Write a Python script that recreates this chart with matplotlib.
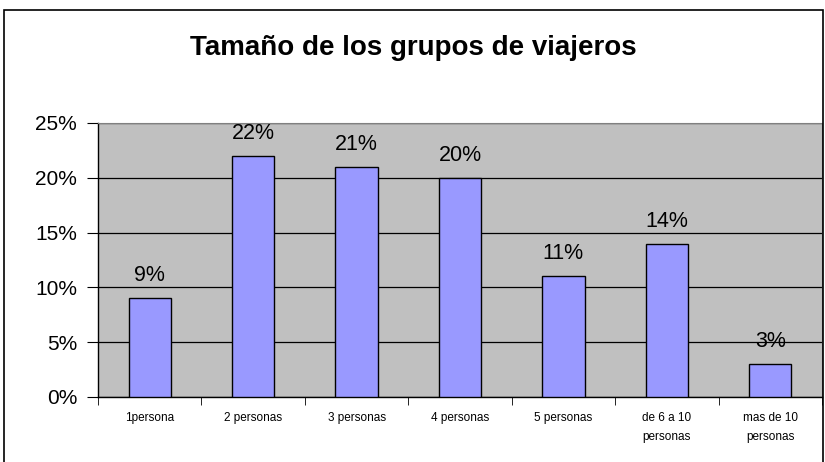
import matplotlib.pyplot as plt
from matplotlib.patches import Rectangle
from matplotlib.ticker import FixedLocator, NullFormatter

plt.rcParams['font.family'] = ['Liberation Sans', 'DejaVu Sans']

categories = ["1persona", "2 personas", "3 personas", "4 personas",
              "5 personas", "de 6 a 10\npersonas", "mas de 10\npersonas"]
values = [9, 22, 21, 20, 11, 14, 3]
yticks = [0, 5, 10, 15, 20, 25]

fig = plt.figure(figsize=(8.25, 4.62), dpi=100)
ax = fig.add_axes([98 / 825, 1 - 397 / 462, 724 / 825, 274 / 462])

x = list(range(len(categories)))
ax.set_facecolor("#C0C0C0")
ax.bar(x, values, width=0.41, color="#9999FF", edgecolor="black", linewidth=1, zorder=3)
for xi, v in zip(x, values):
    ax.text(xi, v + 1.1, f"{v}%", ha="center", va="bottom", fontsize=15.5, zorder=4)

ax.set_xlim(-0.5, len(categories) - 0.5)
ax.set_ylim(0, 25)
ax.set_yticks(yticks)
ax.set_yticklabels([f"{t}%" for t in yticks], fontsize=15)
ax.yaxis.grid(True, color="black", linewidth=0.9, zorder=1)

# category labels between boundary ticks
ax.set_xticks(x)
ax.set_xticklabels(categories, fontsize=8.5, linespacing=1.7)
ax.tick_params(axis="x", length=0, pad=11)
ax.xaxis.set_minor_locator(FixedLocator([i - 0.5 for i in range(len(categories) + 1)]))
ax.xaxis.set_minor_formatter(NullFormatter())
ax.tick_params(axis="x", which="minor", length=6, direction="out")
ax.tick_params(axis="y", length=8, direction="out", pad=7)

for s in ["top", "right"]:
    ax.spines[s].set_color("#808080")
    ax.spines[s].set_linewidth(0.8)
ax.spines["left"].set_linewidth(1)
ax.spines["bottom"].set_linewidth(1)

fig.text(413 / 825, 1 - 48 / 462, "Tamaño de los grupos de viajeros",
         ha="center", va="center", fontsize=20, fontweight="bold")

# chart border (bottom is cut off by the image)
fig.patches.append(Rectangle((4 / 825, -0.1), 819 / 825, 1.1 - 10 / 462,
                             transform=fig.transFigure, fill=False,
                             edgecolor="black", linewidth=1.2))

fig.savefig("out.png", dpi=100)
